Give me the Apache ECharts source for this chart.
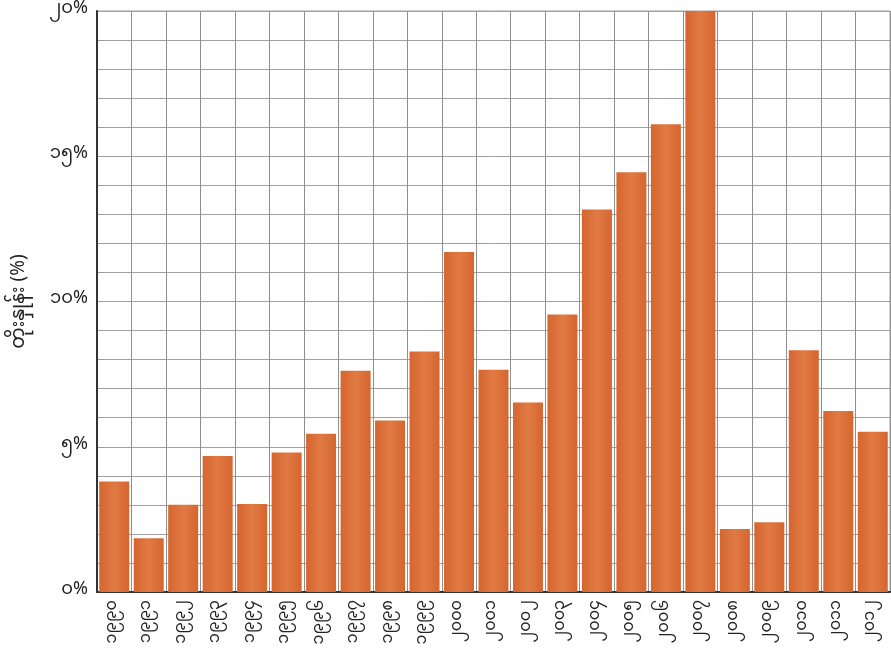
<!DOCTYPE html>
<html>
<head>
<meta charset="utf-8">
<script src="https://cdn.jsdelivr.net/npm/echarts@6/dist/echarts.min.js"></script>
<style>
html,body{margin:0;padding:0;background:#fff;}
#c{width:891px;height:648px;}
</style>
</head>
<body>
<div id="c"></div>
<script>
const categories = ['၁၉၉၀','၁၉၉၁','၁၉၉၂','၁၉၉၃','၁၉၉၄','၁၉၉၅','၁၉၉၆','၁၉၉၇','၁၉၉၈','၁၉၉၉','၂၀၀၀','၂၀၀၁','၂၀၀၂','၂၀၀၃','၂၀၀၄','၂၀၀၅','၂၀၀၆','၂၀၀၇','၂၀၀၈','၂၀၀၉','၂၀၁၀','၂၀၁၁','၂၀၁၂'];
const values = [3.8, 1.85, 3.0, 4.68, 3.03, 4.8, 5.45, 7.62, 5.9, 8.28, 11.7, 7.65, 6.52, 9.55, 13.17, 14.45, 16.1, 20.0, 2.17, 2.4, 8.32, 6.23, 5.52];
const yTickLabels = ['၀%','၅%','၁၀%','၁၅%','၂၀%'];
const yAxisTitle = 'တိုးနှုန်း (%)';

const FONT = "'Noto Sans Myanmar','Padauk','Myanmar Text','Noto Sans',sans-serif";
const chart = echarts.init(document.getElementById('c'));
chart.setOption({
  animation: false,
  backgroundColor: '#ffffff',
  grid: {left: 97, right: 1, top: 11, bottom: 56, show: true, borderColor: '#a0a0a0', borderWidth: 1},
  xAxis: {
    type: 'category',
    data: categories,
    axisLine: {show: true, lineStyle: {color: '#333', width: 2}},
    axisTick: {show: false},
    splitLine: {show: true, interval: 0, lineStyle: {color: '#8f8f8f', width: 1}},
    axisLabel: {rotate: 90, interval: 0, fontSize: 16, color: '#222', fontFamily: FONT, margin: 8}
  },
  yAxis: {
    type: 'value',
    min: 0, max: 20, interval: 1,
    name: yAxisTitle,
    nameLocation: 'middle',
    nameRotate: 90,
    nameGap: 66,
    nameTextStyle: {fontSize: 19, color: '#222', fontFamily: FONT},
    axisLine: {show: true, lineStyle: {color: '#333', width: 2}},
    axisTick: {show: false},
    splitLine: {show: true, lineStyle: {color: '#a0a0a0', width: 1}},
    axisLabel: {
      fontSize: 18, color: '#222', fontFamily: FONT, margin: 9,
      formatter: function (v) { return v % 5 === 0 ? yTickLabels[v / 5] : ''; }
    }
  },
  series: [{
    type: 'bar',
    data: values,
    barCategoryGap: '13%',
    itemStyle: {
      color: new echarts.graphic.LinearGradient(0, 0, 1, 0, [
        {offset: 0, color: '#d6652f'},
        {offset: 0.5, color: '#e07a44'},
        {offset: 1, color: '#d6652f'}
      ])
    }
  }]
});
</script>
</body>
</html>
